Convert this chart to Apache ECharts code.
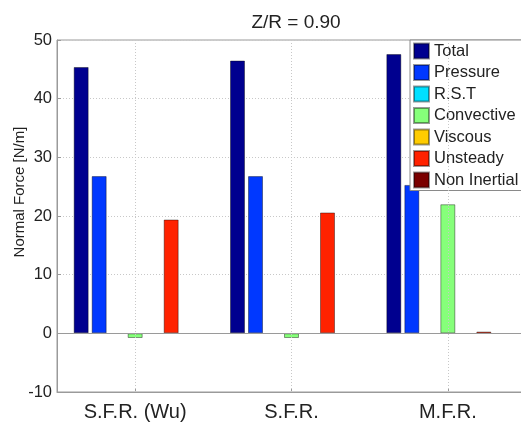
<!DOCTYPE html>
<html>
<head>
<meta charset="utf-8">
<script src="https://cdn.jsdelivr.net/npm/echarts@6/dist/echarts.min.js"></script>
<style>
html,body{margin:0;padding:0;background:#fff;}
#chart{width:521px;height:424px;}
</style>
</head>
<body>
<div id="chart"></div>
<script>
var categories = ['S.F.R. (Wu)', 'S.F.R.', 'M.F.R.'];
var seriesNames = ['Total', 'Pressure', 'R.S.T', 'Convective', 'Viscous', 'Unsteady', 'Non Inertial'];
var total = [45.4, 46.5, 47.6];
var pressure = [26.8, 26.8, 25.3];
var rst = [0, 0, 0];
var convective = [-0.8, -0.8, 22.0];
var viscous = [0, 0, 0];
var unsteady = [19.4, 20.6, 0.3];
var nonInertial = [0, 0, 0];
var yTicks = { min: -10, max: 50, interval: 10 };
var titleText = 'Z/R = 0.90';
var yLabel = 'Normal Force [N/m]';

var colors = ['#00008F', '#0038FF', '#00E0FF', '#86FF7A', '#FFCC00', '#FF2200', '#7A0000'];
var values = [total, pressure, rst, convective, viscous, unsteady, nonInertial];
var FONT = '"Liberation Sans", Arial, sans-serif';

var series = seriesNames.map(function (name, i) {
  return {
    name: name,
    type: 'bar',
    data: values[i].map(function (v) {
      return v === 0 ? { value: v, itemStyle: { borderWidth: 0 } } : v;
    }),
    barWidth: 15,
    barGap: '20%',
    itemStyle: { color: colors[i], borderColor: 'rgba(0,0,0,0.4)', borderWidth: 1 },
    emphasis: { disabled: true },
    animation: false
  };
});

// vertical dotted grid lines at category centers (under bars)
series.push({
  type: 'line',
  data: [],
  z: 1,
  silent: true,
  markLine: {
    silent: true,
    symbol: ['none', 'none'],
    label: { show: false },
    animation: false,
    lineStyle: { color: '#c8c8c8', type: [1, 2], width: 1 },
    data: categories.map(function (c) { return { xAxis: c }; })
  }
});
// zero baseline (over bars)
series.push({
  type: 'line',
  data: [],
  z: 5,
  silent: true,
  markLine: {
    silent: true,
    symbol: ['none', 'none'],
    label: { show: false },
    animation: false,
    lineStyle: { color: '#9a9a9a', type: 'solid', width: 1 },
    data: [{ yAxis: 0 }]
  }
});

var chart = echarts.init(document.getElementById('chart'), null, { renderer: 'canvas' });
chart.setOption({
  backgroundColor: '#fff',
  animation: false,
  textStyle: { fontFamily: FONT },
  title: {
    text: titleText,
    left: 291,
    textAlign: 'center',
    top: 8,
    textStyle: { fontSize: 19, fontWeight: 'normal', color: '#222', fontFamily: FONT }
  },
  legend: {
    orient: 'vertical',
    left: 410,
    top: 40,
    itemWidth: 15,
    itemHeight: 15,
    itemGap: 4.5,
    itemTextGap: 6,
    padding: [2.5, 8, 2, 3],
    backgroundColor: '#fff',
    borderColor: '#8a8a8a',
    borderWidth: 1,
    borderRadius: 0,
    icon: 'rect',
    selectedMode: false,
    textStyle: { fontSize: 16.5, color: '#222', fontFamily: FONT },
    data: seriesNames
  },
  grid: {
    left: 57,
    top: 40,
    right: -5,
    bottom: 32,
    show: true,
    borderColor: '#9a9a9a',
    borderWidth: 1,
    containLabel: false,
    outerBoundsMode: 'none'
  },
  xAxis: {
    type: 'category',
    data: categories,
    axisLine: { show: true, onZero: false, lineStyle: { color: '#9a9a9a' } },
    axisTick: { show: true, inside: true, alignWithLabel: true, length: 4, lineStyle: { color: '#9a9a9a' } },
    axisLabel: { fontSize: 20, color: '#222', margin: 10, fontFamily: FONT },
    splitLine: { show: false }
  },
  yAxis: {
    type: 'value',
    min: yTicks.min,
    max: yTicks.max,
    interval: yTicks.interval,
    name: yLabel,
    nameLocation: 'middle',
    nameGap: 30,
    nameMoveOverlap: false,
    nameTextStyle: { fontSize: 15, color: '#222', fontFamily: FONT, padding: [0, 0, 0, 48] },
    axisLine: { show: true, lineStyle: { color: '#9a9a9a' } },
    axisTick: { show: true, inside: true, length: 4, lineStyle: { color: '#9a9a9a' } },
    axisLabel: { fontSize: 16.5, color: '#222', margin: 5, fontFamily: FONT },
    splitLine: { show: true, lineStyle: { color: '#c8c8c8', type: [1, 2], width: 1 } }
  },
  series: series
});
</script>
</body>
</html>
